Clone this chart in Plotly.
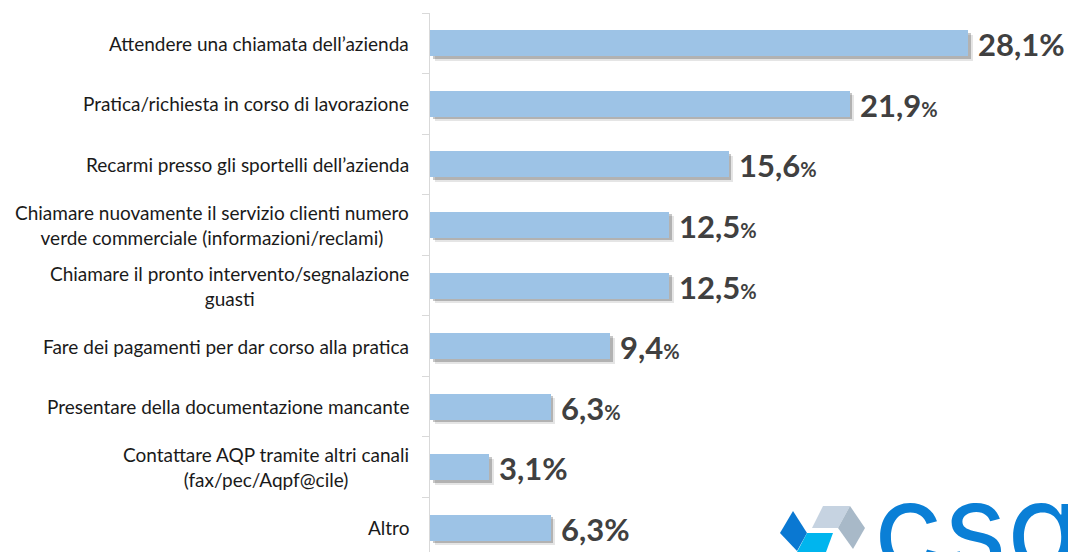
import plotly.graph_objects as go

# Survey answers (top to bottom) and their shares in percent
categories = [
    "Attendere una chiamata dell’azienda",
    "Pratica/richiesta in corso di lavorazione",
    "Recarmi presso gli sportelli dell’azienda",
    "Chiamare nuovamente il servizio clienti numero<br>verde commerciale (informazioni/reclami)",
    "Chiamare il pronto intervento/segnalazione<br>guasti",
    "Fare dei pagamenti per dar corso alla pratica",
    "Presentare della documentazione mancante",
    "Contattare AQP tramite altri canali<br>(fax/pec/Aqpf@cile)",
    "Altro",
]
values = [28.1, 21.9, 15.6, 12.5, 12.5, 9.4, 6.3, 3.1, 6.3]
# whether the percent sign of each value label is set in a smaller size
small_pct = [False, True, True, True, True, True, True, False, False]

W, H = 1068, 552
ML, MR, MT, MB = 430, 0, 13, 0
PW, PH = W - ML - MR, H - MT - MB
X_MAX = 33.3
Y_RANGE = [8.4, -0.5]
px_per_x = PW / X_MAX
px_per_cat = PH / (Y_RANGE[0] - Y_RANGE[1])

BAR_W = 0.43
BAR_COLOR = "#9DC3E6"
FONT = "Lato"

fig = go.Figure()

# soft drop shadow: two offset grey layers under each bar
for d, alpha in [(4.5, 0.10), (2.5, 0.22)]:
    fig.add_trace(go.Bar(
        x=values, y=categories, orientation="h",
        base=d / px_per_x, width=BAR_W,
        offset=-BAR_W / 2 + d / px_per_cat,
        marker=dict(color=f"rgba(0,0,0,{alpha})", line=dict(width=0)),
        hoverinfo="skip", showlegend=False,
    ))

fig.add_trace(go.Bar(
    x=values, y=categories, orientation="h", width=BAR_W,
    marker=dict(color=BAR_COLOR, line=dict(width=0)),
    showlegend=False,
))

annotations = []
# category labels, right aligned next to the axis, multi-line ones centred
for cat in categories:
    annotations.append(dict(
        x=0, xref="paper", y=cat, yref="y", xanchor="right", yanchor="middle",
        xshift=-19, text=cat, showarrow=False, align="center",
        font=dict(family=FONT, size=19, color="#1a1a1a"),
    ))

# value labels at the end of each bar
for cat, v, small in zip(categories, values, small_pct):
    num = f"{v:.1f}".replace(".", ",")
    pct = '<span style="font-size:20px">%</span>' if small else "%"
    annotations.append(dict(
        x=v, y=cat, xanchor="left", yanchor="middle", xshift=8, yshift=-1,
        text=f"<b>{num}{pct}</b>", showarrow=False,
        font=dict(family=FONT, size=31, color="#404040"),
    ))


def px(xp):
    return (xp - ML) / PW


def py(yp):
    return (H - MB - yp) / PH


def poly(points):
    return "M " + " L ".join(f"{px(a):.5f},{py(b):.5f}" for a, b in points) + " Z"


# company logo mark in the lower right corner
logo_parts = [
    ([(780, 533), (793, 511), (807, 533), (797, 551)], "#0A78D2"),
    ([(807, 533), (833, 533), (826, 552), (797, 552)], "#00B5EE"),
    ([(812, 528), (823, 506), (850, 506), (838, 528)], "#C6D3E1"),
    ([(850, 506), (865, 528), (853, 549), (838, 528)], "#A8B9C8"),
]
shapes = [
    dict(type="path", xref="paper", yref="paper", path=poly(pts),
         fillcolor=col, line=dict(width=0), layer="above")
    for pts, col in logo_parts
]

annotations.append(dict(
    x=px(872), y=py(451), xref="paper", yref="paper",
    xanchor="left", yanchor="top", text="csq", showarrow=False,
    font=dict(family="Inter", size=121, color="#0A7FD6", weight=400),
))

fig.update_layout(
    width=W, height=H,
    margin=dict(l=ML, r=MR, t=MT, b=MB, pad=0),
    paper_bgcolor="white", plot_bgcolor="white",
    barmode="overlay", bargap=0,
    xaxis=dict(visible=False, range=[0, X_MAX], fixedrange=True),
    yaxis=dict(
        type="category", categoryorder="array", categoryarray=categories,
        range=Y_RANGE, showticklabels=False, showgrid=False, zeroline=False,
        showline=True, linecolor="#D9D9D9", linewidth=1,
        ticks="outside", tickson="boundaries", ticklen=7, tickcolor="#D9D9D9",
    ),
    annotations=annotations,
    shapes=shapes,
)

fig.write_html("out.html")
